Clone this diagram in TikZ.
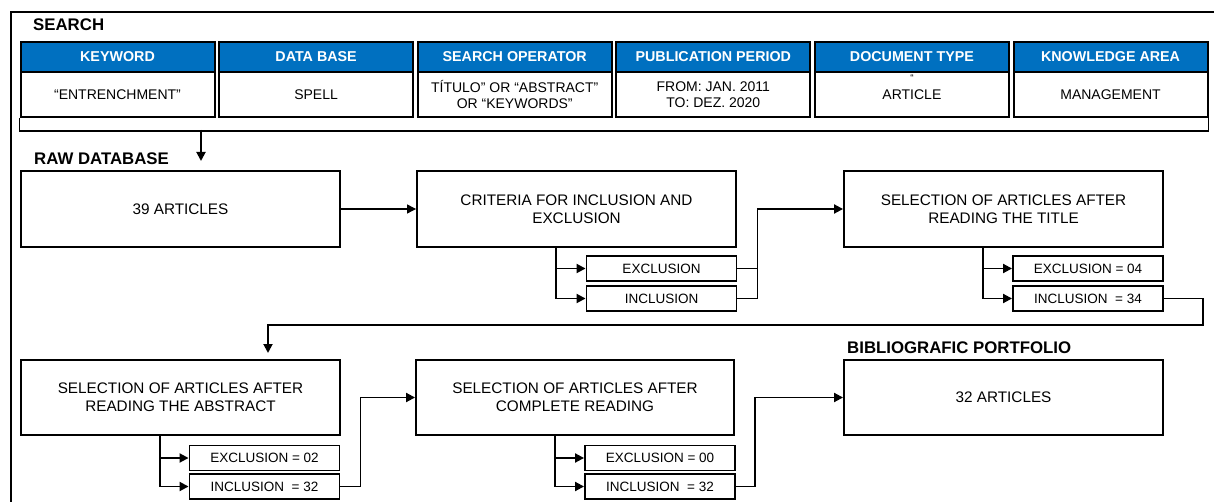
\documentclass[tikz,border=0pt]{standalone}
\usepackage{fontspec}
\setmainfont{Liberation Sans}
\usetikzlibrary{arrows.meta}
\definecolor{hdrblue}{RGB}{0,112,192}
\begin{document}
\begin{tikzpicture}[x=1pt,y=-1pt,
  hdr/.style={draw=black, fill=hdrblue, line width=2pt, text=white, font=\fontsize{14.3}{16}\selectfont\bfseries, minimum width=194pt, minimum height=30pt, inner sep=0pt},
  cell/.style={draw=black, line width=2pt, font=\fontsize{14}{16}\selectfont, minimum width=194pt, minimum height=45pt, align=center, inner sep=0pt},
  bigbox/.style={draw=black, line width=1.9pt, font=\fontsize{15.3}{18}\selectfont, minimum width=319pt, minimum height=76pt, align=center, inner sep=0pt},
  subbox/.style={draw=black, line width=1.9pt, font=\fontsize{13.5}{15}\selectfont, minimum width=150pt, minimum height=25pt, inner sep=0pt},
  lbl/.style={anchor=west, font=\fontsize{16.8}{18}\selectfont\bfseries, inner sep=0pt},
  conn/.style={line width=1.9pt},
  arr/.style={conn, -{Triangle[length=9pt,width=9pt]}},
  thinarr/.style={line width=1.2pt, -{Triangle[length=9pt,width=9pt]}},
]
\clip (0,0) rectangle (1214,502);
% outer frame
\draw[line width=2pt] (11,12) rectangle (1240,540);

% SEARCH
\node[lbl] (search) at (33,25) {SEARCH};
\node[hdr] (h1) at (117.5,57) {KEYWORD};
\node[hdr] (h2) at (316.1,57) {DATA BASE};
\node[hdr] (h3) at (514.7,57) {SEARCH OPERATOR};
\node[hdr] (h4) at (713.3,57) {PUBLICATION PERIOD};
\node[hdr] (h5) at (911.9,57) {DOCUMENT TYPE};
\node[hdr] (h6) at (1110.5,57) {KNOWLEDGE AREA};
\node[cell] (c1) at (117.5,94.5) {“ENTRENCHMENT”};
\node[cell] (c2) at (316.1,94.5) {SPELL};
\node[cell] (c3) at (514.7,94.5) {TÍTULO” OR “ABSTRACT”\\OR “KEYWORDS”};
\node[cell] (c4) at (713.3,94.5) {FROM: JAN. 2011\\TO: DEZ. 2020};
\node[cell] (c5) at (911.9,94.5) {ARTICLE};
\node[cell] (c6) at (1110.5,94.5) {MANAGEMENT};
\node[font=\fontsize{10}{10}\selectfont, inner sep=0pt] (q5) at (912,78.5) {“};

% bracket under the search row
\coordinate (brk) at (201,130);
\coordinate (rawarr) at (201,161);
\draw[conn] (c1.south west) -- ++(0,13) -| (c6.south east);
\draw[arr] (brk) -- (rawarr);

% raw database row
\node[lbl] (rawlbl) at (34,159) {RAW DATABASE};
\node[bigbox] (raw) at (180.5,209) {39 ARTICLES};
\node[bigbox] (crit) at (576.5,209) {CRITERIA FOR INCLUSION AND\\EXCLUSION};
\node[bigbox] (title) at (1003.5,209) {SELECTION OF ARTICLES AFTER\\READING THE TITLE};
\node[subbox] (critex) at (661.5,268.5) {EXCLUSION};
\node[subbox] (critin) at (661.5,298.5) {INCLUSION};
\node[subbox] (titleex) at (1088,268.5) {EXCLUSION = 04};
\node[subbox] (titlein) at (1088,298.5) {INCLUSION\ \ = 34};

\draw[thinarr] (raw.east) -- (crit.west);
\draw[arr] ([xshift=140pt]crit.south west) |- (critex.west);
\draw[arr] ([xshift=140pt]crit.south west) |- (critin.west);
\draw[conn] (critex.east) -- ++(20,0);
\draw[arr] (critin.east) -- ++(20,0) |- (title.west);
\draw[arr] ([xshift=140pt]title.south west) |- (titleex.west);
\draw[arr] ([xshift=140pt]title.south west) |- (titlein.west);

% second row
\coordinate (r1) at (1203,325);
\coordinate (absarr) at (268,353);
\draw[arr] (titlein.east) -| (r1) -| (absarr);

\node[bigbox, minimum height=75pt] (abs) at (180.5,397.5) {SELECTION OF ARTICLES AFTER\\READING THE ABSTRACT};
\node[bigbox, minimum height=75pt, minimum width=318pt] (comp) at (575,397.5) {SELECTION OF ARTICLES AFTER\\COMPLETE READING};
\node[lbl] (portlbl) at (847,348) {BIBLIOGRAFIC PORTFOLIO};
\node[bigbox, minimum height=75pt] (port) at (1003.5,397.5) {32 ARTICLES};
\node[subbox] (absex) at (264.5,458) {EXCLUSION = 02};
\node[subbox] (absin) at (264.5,486.5) {INCLUSION\ \ = 32};
\node[subbox] (compex) at (660,458) {EXCLUSION = 00};
\node[subbox] (compin) at (660,486.5) {INCLUSION\ \ = 32};

\draw[arr] ([xshift=140pt]abs.south west) |- (absex.west);
\draw[arr] ([xshift=140pt]abs.south west) |- (absin.west);
\draw[arr] (absin.east) -- ++(20,0) |- (comp.west);
\draw[arr] ([xshift=140pt]comp.south west) |- (compex.west);
\draw[arr] ([xshift=140pt]comp.south west) |- (compin.west);
\draw[arr] (compin.east) -- ++(19,0) |- (port.west);
\end{tikzpicture}
\end{document}
